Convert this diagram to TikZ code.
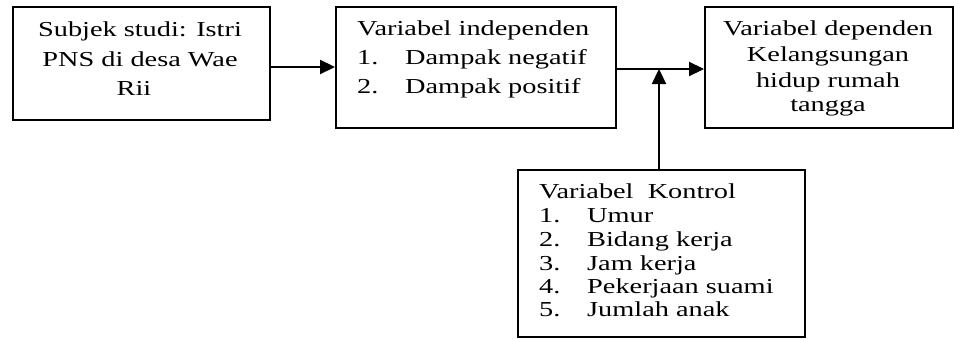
\documentclass[tikz,border=0pt]{standalone}
\usepackage{fontspec}
\setmainfont[FakeStretch=1.33]{Liberation Serif}
\usetikzlibrary{arrows.meta}
\begin{document}
\begin{tikzpicture}[x=1pt,y=-1pt,
  box/.style={draw,line width=1.6pt,inner sep=0pt,anchor=north west},
  txt/.style={inner sep=0pt,font=\fontsize{21.3}{24}\selectfont},
  conn/.style={line width=2.2pt,-{Triangle[length=15pt,width=14pt]}}]
\useasboundingbox (0,0) rectangle (954,340);
% boxes
\node[box,minimum width=257pt,minimum height=113pt] (b1) at (12,6) {};
\node[box,minimum width=280pt,minimum height=121pt] (b2) at (335,6) {};
\node[box,minimum width=248pt,minimum height=121pt] (b3) at (704,6) {};
\node[box,minimum width=287pt,minimum height=167pt] (b4) at (517,169) {};
% box 1 text
\node[txt,anchor=base] (t11) at (140,36) {Subjek studi: Istri};
\node[txt,anchor=base] (t12) at (140,66) {PNS di desa Wae};
\node[txt,anchor=base] (t13) at (134,95) {Rii};
% box 2 text
\node[txt,anchor=base west] (t21) at (357,35) {Variabel independen};
\node[txt,anchor=base west] (n21) at (357,64) {1.};
\node[txt,anchor=base west] (t22) at (405,64) {Dampak negatif};
\node[txt,anchor=base west] (n22) at (357,93) {2.};
\node[txt,anchor=base west] (t23) at (405,93) {Dampak positif};
% box 3 text
\node[txt,anchor=base] (t31) at (828,35) {Variabel dependen};
\node[txt,anchor=base] (t32) at (828,61.7) {Kelangsungan};
\node[txt,anchor=base] (t33) at (828,87.7) {hidup rumah};
\node[txt,anchor=base] (t34) at (828,111.7) {tangga};
% box 4 text
\node[txt,anchor=base west] (t41) at (539,198.3) {Variabel\ \ Kontrol};
\node[txt,anchor=base west] (n41) at (539,222.7) {1.};
\node[txt,anchor=base west] (t42) at (587,222.7) {Umur};
\node[txt,anchor=base west] (n42) at (539,246.7) {2.};
\node[txt,anchor=base west] (t43) at (587,246.7) {Bidang kerja};
\node[txt,anchor=base west] (n43) at (539,270) {3.};
\node[txt,anchor=base west] (t44) at (587,270) {Jam kerja};
\node[txt,anchor=base west] (n44) at (539,293) {4.};
\node[txt,anchor=base west] (t45) at (587,293) {Pekerjaan suami};
\node[txt,anchor=base west] (n45) at (539,316.7) {5.};
\node[txt,anchor=base west] (t46) at (587,316.7) {Jumlah anak};
% connectors
\coordinate (m1) at (300,67);
\coordinate (m2) at (659,69);
\draw[conn] (b1.east |- m1) -- (b2.west |- m1);
\draw[conn] (b2.east |- m2) -- (b3.west |- m2);
\draw[conn] (b4.north -| m2) -- (m2);
\end{tikzpicture}
\end{document}
